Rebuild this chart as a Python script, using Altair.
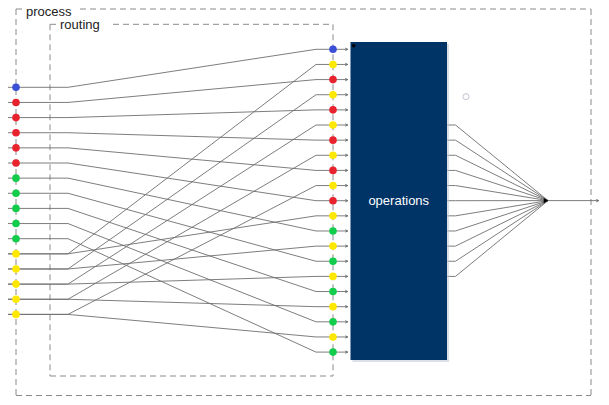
import altair as alt
import pandas as pd

# ---- data ----
input_colors = ["blue"] + ["red"] * 5 + ["green"] * 5 + ["yellow"] * 5
port_colors = ["blue", "yellow", "red", "yellow", "red", "yellow", "red", "yellow", "red",
               "yellow", "red", "yellow", "green", "yellow", "green", "yellow", "green",
               "yellow", "green", "yellow", "green"]
# (input index, port index)
routes = [(0, 0), (1, 2), (2, 4), (3, 6), (4, 8), (5, 10),
          (6, 12), (7, 14), (8, 16), (9, 18), (10, 20),
          (11, 1), (12, 3), (13, 5), (14, 7), (15, 9),
          (11, 11), (12, 13), (13, 15), (14, 17), (15, 19)]
n_outputs = 11
box_labels = ["process", "routing"]
op_label = "operations"

palette = {"blue": "#3a4fd6", "red": "#e8232e", "green": "#12cc4c", "yellow": "#ffe800"}

# ---- layout (diagram geometry) ----
IN_X, IN_Y0, STEP = 16, 87.3, 15.14
PORT_X, PORT_Y0 = 333, 49.3
OUT_Y0 = 125.0
BOX = dict(x=350.5, x2=447, y=42, y2=360)
HUB = (548, 200.6)
P_TOP, R_TOP = 9.0, 24.3

def yin(i):
    return IN_Y0 + i * STEP

def yport(j):
    return PORT_Y0 + j * STEP

X = lambda f="x": alt.X(f"{f}:Q", scale=alt.Scale(domain=[8, 601], nice=False, zero=False), axis=None)
Y = lambda f="y": alt.Y(f"{f}:Q", scale=alt.Scale(domain=[8, 397], reverse=True, nice=False, zero=False), axis=None)

# connection polylines
rows = []
for c, (i, j) in enumerate(routes):
    pts = [(7, yin(i)), (68, yin(i)), (316, yport(j)), (PORT_X, yport(j)), (348, yport(j))]
    for o, (px, py) in enumerate(pts):
        rows.append(dict(conn=c, o=o, x=px, y=py))
for k in range(n_outputs):
    yo = OUT_Y0 + k * STEP
    for o, (px, py) in enumerate([(BOX["x2"], yo), (455.5, yo), HUB]):
        rows.append(dict(conn=100 + k, o=o, x=px, y=py))
for o, (px, py) in enumerate([HUB, (599, HUB[1])]):
    rows.append(dict(conn=200, o=o, x=px, y=py))
lines_df = pd.DataFrame(rows)

# dashed group borders (with gaps for the labels)
seg = [
    # process
    dict(x=16, x2=22, y=P_TOP, y2=P_TOP), dict(x=80, x2=591, y=P_TOP, y2=P_TOP),
    dict(x=16, x2=16, y=P_TOP, y2=395.5), dict(x=591, x2=591, y=P_TOP, y2=395.5),
    dict(x=16, x2=591, y=395.5, y2=395.5),
    # routing
    dict(x=50, x2=56, y=R_TOP, y2=R_TOP), dict(x=113, x2=333, y=R_TOP, y2=R_TOP),
    dict(x=50, x2=50, y=R_TOP, y2=376), dict(x=333, x2=333, y=R_TOP, y2=376),
    dict(x=50, x2=333, y=376, y2=376),
]
seg_df = pd.DataFrame(seg)

labels_df = pd.DataFrame({"x": [26, 60], "y": [15.6, 29.3], "t": box_labels})

dots_df = pd.DataFrame(
    [dict(x=IN_X, y=yin(i), c=col) for i, col in enumerate(input_colors)]
    + [dict(x=PORT_X, y=yport(j), c=col) for j, col in enumerate(port_colors)]
)
arrows_df = pd.DataFrame([dict(x=346.5, y=yport(j)) for j in range(len(port_colors))]
                         + [dict(x=597.5, y=HUB[1])])

box_df = pd.DataFrame([BOX])
shadow_df = pd.DataFrame([dict(x=BOX["x"] + 2, x2=BOX["x2"] + 2, y=BOX["y"] + 2, y2=BOX["y2"] + 2)])

borders = alt.Chart(seg_df).mark_rule(color="#8a8a8a", strokeWidth=1, strokeDash=[6, 4]).encode(
    x=X(), x2="x2:Q", y=Y(), y2="y2:Q")
labels = alt.Chart(labels_df).mark_text(align="left", baseline="alphabetic", font="Liberation Sans",
                                         fontSize=13, color="#222").encode(x=X(), y=Y(), text="t:N")
lines = alt.Chart(lines_df).mark_line(color="#6e6e6e", strokeWidth=0.9).encode(
    x=X(), y=Y(), detail="conn:N", order="o:Q")
arrows = alt.Chart(arrows_df).mark_point(shape="M-0.5,-0.5L0.5,0L-0.5,0.5", filled=False,
                                          color="#6e6e6e", strokeWidth=1, size=22, opacity=1).encode(x=X(), y=Y())
dots = alt.Chart(dots_df).mark_circle(size=58, opacity=1).encode(
    x=X(), y=Y(),
    color=alt.Color("c:N", scale=alt.Scale(domain=list(palette.keys()), range=list(palette.values())), legend=None))
shadow = alt.Chart(shadow_df).mark_rect(color="#c5ccd8", opacity=0.6).encode(x=X(), x2="x2:Q", y=Y(), y2="y2:Q")
box = alt.Chart(box_df).mark_rect(color="#003366").encode(x=X(), x2="x2:Q", y=Y(), y2="y2:Q")
corner = alt.Chart(pd.DataFrame([dict(x=353.7, y=45.7)])).mark_circle(size=12, color="black", opacity=1).encode(x=X(), y=Y())
op_text = alt.Chart(pd.DataFrame([dict(x=(BOX["x"] + BOX["x2"]) / 2, y=200.5, t=op_label)])).mark_text(
    font="Liberation Sans", fontSize=13, color="white", baseline="middle").encode(x=X(), y=Y(), text="t:N")
hub = alt.Chart(pd.DataFrame([dict(x=HUB[0] - 2, y=HUB[1])])).mark_point(
    shape="triangle-right", filled=True, color="black", size=28, opacity=1).encode(x=X(), y=Y())
ring = alt.Chart(pd.DataFrame([dict(x=466, y=96.6)])).mark_point(
    shape="circle", filled=False, color="#c4c4d6", size=36, strokeWidth=1, opacity=1).encode(x=X(), y=Y())

chart = alt.layer(borders, labels, lines, arrows, dots, shadow, box, corner, op_text, hub, ring).properties(
    width=593, height=389, padding=0, autosize="none"
).configure_view(stroke=None)

chart.save("out.html", embed_options={"renderer": "svg", "actions": False})
